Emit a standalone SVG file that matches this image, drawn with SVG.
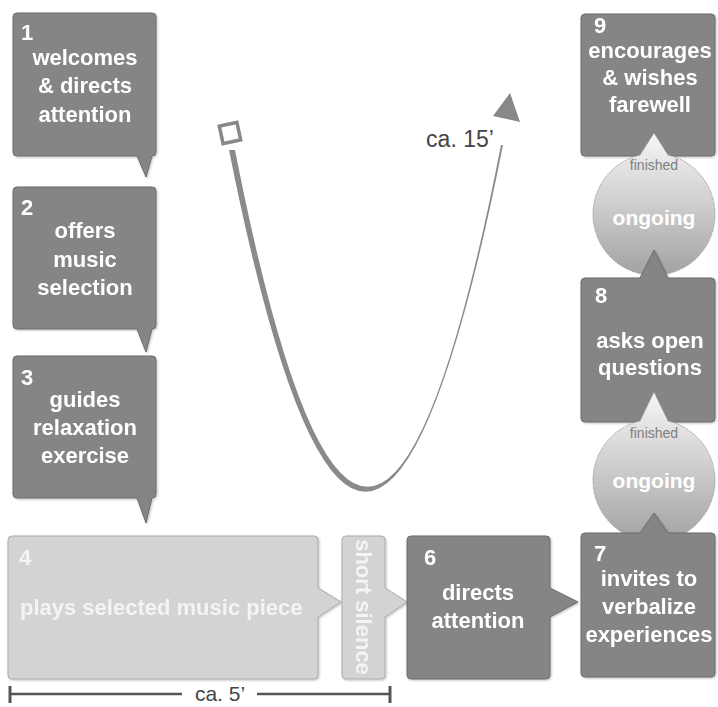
<svg xmlns="http://www.w3.org/2000/svg" width="718" height="707" viewBox="0 0 718 707">
<defs>
<style>
.dark{fill:#858585;stroke:#6c6c6c;stroke-width:1}
.light{fill:#d3d3d3;stroke:#ababab;stroke-width:1}
.t{font-family:"Liberation Sans",Arial,sans-serif;font-weight:bold;font-size:22px;fill:#ffffff;text-anchor:middle}
.n{text-anchor:start}
.lt{fill:#f4f4f4}
.fin{font-family:"Liberation Sans",Arial,sans-serif;font-size:14px;fill:#7f7f7f;text-anchor:middle}
.og{font-family:"Liberation Sans",Arial,sans-serif;font-weight:bold;font-size:21px;fill:#ffffff;text-anchor:middle}
.note{font-family:"Liberation Sans",Arial,sans-serif;fill:#444444;text-anchor:middle}
.circ{fill:url(#cg);stroke:#9a9a9a;stroke-width:1;stroke-dasharray:1.5 1}
</style>
<linearGradient id="cg" x1="0" y1="0" x2="0" y2="1">
<stop offset="0" stop-color="#f6f6f6"/>
<stop offset="0.45" stop-color="#d2d2d2"/>
<stop offset="1" stop-color="#a2a2a2"/>
</linearGradient>
<filter id="sh" x="-10%" y="-10%" width="120%" height="120%">
<feDropShadow dx="1" dy="1" stdDeviation="1" flood-color="#000" flood-opacity="0.25"/>
</filter>
</defs>
<rect width="718" height="707" fill="#ffffff"/>

<g id="connectors">
<rect x="221" y="124" width="18" height="18" fill="none" stroke="#888888" stroke-width="3.5" transform="rotate(-12 230 133)"/>
<path d="M229,150 Q366,836 503,145 L501,145 Q368,826 235,150 Z" fill="#8a8a8a"/>
<polygon points="510,93 493,116 520,122" fill="#888888"/>
<text class="note" x="460" y="147" font-size="23">ca. 15’</text>
</g>

<g id="timeline" stroke="#555555" stroke-width="2.5">
<line x1="10" y1="694" x2="182" y2="694"/>
<line x1="257" y1="694" x2="390" y2="694"/>
<line x1="10" y1="686" x2="10" y2="703" stroke-width="3"/>
<line x1="390" y1="686" x2="390" y2="703" stroke-width="3"/>
<text class="note" x="220" y="701" font-size="21" stroke="none">ca. 5’</text>
</g>

<g id="node1" filter="url(#sh)">
<path class="dark" d="M17,13 H152 Q156,13 156,17 V152 Q156,156 152,156 L146,177 L137,156 H17 Q13,156 13,152 V17 Q13,13 17,13 Z"/>
<text class="t n" x="21" y="40">1</text>
<text class="t" x="85" y="65">welcomes</text>
<text class="t" x="85" y="93">&amp; directs</text>
<text class="t" x="85" y="122">attention</text>
</g>

<g id="node2" filter="url(#sh)">
<path class="dark" d="M17,187 H152 Q156,187 156,191 V325 Q156,329 152,329 L146,352 L137,329 H17 Q13,329 13,325 V191 Q13,187 17,187 Z"/>
<text class="t n" x="21" y="215">2</text>
<text class="t" x="85" y="238">offers</text>
<text class="t" x="85" y="267">music</text>
<text class="t" x="85" y="295">selection</text>
</g>

<g id="node3" filter="url(#sh)">
<path class="dark" d="M17,356 H152 Q156,356 156,360 V494 Q156,498 152,498 L146,523 L137,498 H17 Q13,498 13,494 V360 Q13,356 17,356 Z"/>
<text class="t n" x="21" y="385">3</text>
<text class="t" x="85" y="407">guides</text>
<text class="t" x="85" y="435">relaxation</text>
<text class="t" x="85" y="463">exercise</text>
</g>

<g id="node4" filter="url(#sh)">
<path class="light" d="M12,536 H314 Q318,536 318,540 V588 L341,602 L318,617 V675 Q318,679 314,679 H12 Q8,679 8,675 V540 Q8,536 12,536 Z"/>
<text class="t n lt" x="19" y="565">4</text>
<text class="t n lt" x="20" y="615">plays selected music piece</text>
</g>

<g id="node5" filter="url(#sh)">
<path class="light" d="M346,536 H381 Q385,536 385,540 V588 L407,602 L385,617 V675 Q385,679 381,679 H346 Q342,679 342,675 V540 Q342,536 346,536 Z"/>
<text class="t lt" font-size="20" transform="translate(363,607) rotate(90)" y="7">short silence</text>
</g>

<g id="node6" filter="url(#sh)">
<path class="dark" d="M411,536 H546 Q550,536 550,540 V588 L578,602 L550,617 V675 Q550,679 546,679 H411 Q407,679 407,675 V540 Q407,536 411,536 Z"/>
<text class="t n" x="424" y="565">6</text>
<text class="t" x="478" y="600">directs</text>
<text class="t" x="478" y="628">attention</text>
</g>

<g id="node9" filter="url(#sh)">
<path class="dark" d="M585,14 H711 Q715,14 715,18 V152 Q715,156 711,156 H585 Q581,156 581,152 V18 Q581,14 585,14 Z"/>
<text class="t n" x="594" y="33">9</text>
<text class="t" x="650" y="58">encourages</text>
<text class="t" x="650" y="85">&amp; wishes</text>
<text class="t" x="650" y="112">farewell</text>
</g>

<g id="decision1">
<path class="circ" d="M640,155 L654,133 L668,155 A61,61 0 1,1 640,155 Z"/>
<text class="fin" x="654" y="170">finished</text>
<text class="og" x="654" y="225">ongoing</text>
</g>

<g id="node8" filter="url(#sh)">
<path class="dark" d="M585,278 H640 L654,250 L668,278 H711 Q715,278 715,282 V418 Q715,422 711,422 H585 Q581,422 581,418 V282 Q581,278 585,278 Z"/>
<text class="t n" x="595" y="303">8</text>
<text class="t" x="650" y="348">asks open</text>
<text class="t" x="650" y="375">questions</text>
</g>

<g id="decision2">
<path class="circ" d="M640,421 L654,392 L668,421 A61,61 0 1,1 640,421 Z"/>
<text class="fin" x="654" y="438">finished</text>
<text class="og" x="654" y="488">ongoing</text>
</g>

<g id="node7" filter="url(#sh)">
<path class="dark" d="M585,533 H640 L654,513 L668,533 H711 Q715,533 715,537 V673 Q715,677 711,677 H585 Q581,677 581,673 V537 Q581,533 585,533 Z"/>
<text class="t n" x="594" y="561">7</text>
<text class="t" x="649" y="586">invites to</text>
<text class="t" x="649" y="614">verbalize</text>
<text class="t" x="649" y="642">experiences</text>
</g>
</svg>
